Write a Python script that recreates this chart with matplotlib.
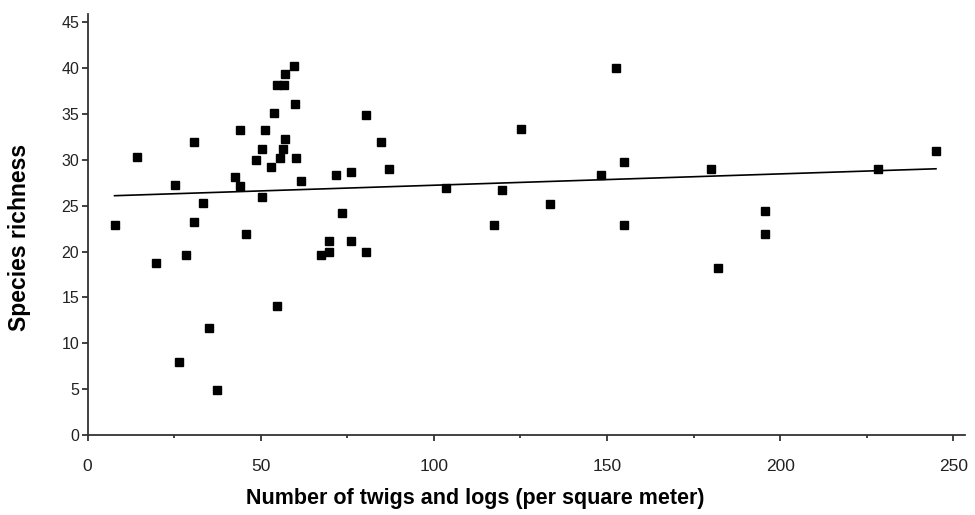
import numpy as np
import matplotlib
matplotlib.use('Agg')
import matplotlib.pyplot as plt
from matplotlib.ticker import MultipleLocator

plt.rcParams['font.family'] = ['Liberation Sans', 'DejaVu Sans']

# Data
twigs = [7.8, 14.4, 19.9, 25.2, 26.4, 28.5, 30.8, 30.8, 33.4, 35.2,
         37.4, 42.6, 43.9, 44.0, 45.7, 48.7, 50.5, 50.3, 51.3, 53.1,
         53.9, 54.7, 54.7, 55.7, 56.4, 56.7, 57.1, 57.1, 59.7, 60.0,
         60.1, 61.7, 67.4, 69.6, 69.6, 71.7, 73.5, 76.0, 76.1, 80.4,
         80.4, 84.8, 87.0, 103.5, 117.4, 119.7, 125.3, 133.5, 148.4, 152.7,
         154.8, 154.8, 180.1, 182.2, 195.7, 195.7, 228.4, 245.0]
richness = [22.9, 30.3, 18.8, 27.3, 8.0, 19.6, 32.0, 23.2, 25.3, 11.7,
            4.9, 28.1, 33.3, 27.2, 21.9, 30.0, 31.2, 26.0, 33.3, 29.2,
            35.1, 38.2, 14.1, 30.2, 31.2, 38.2, 39.4, 32.3, 40.2, 36.1,
            30.2, 27.7, 19.6, 21.1, 19.9, 28.4, 24.2, 21.1, 28.7, 34.9,
            19.9, 32.0, 29.0, 26.9, 22.9, 26.7, 33.4, 25.2, 28.4, 40.0,
            29.8, 22.9, 29.0, 18.2, 24.4, 21.9, 29.0, 31.0]

x = np.array(twigs)
y = np.array(richness)

# linear trend line
slope, intercept = np.polyfit(x, y, 1)
xl = np.array([x.min(), x.max()])
yl = slope * xl + intercept

fig = plt.figure(figsize=(9.75, 5.15), dpi=100)
ax = fig.add_axes([0.0898, 0.1553, 0.900, 0.8175])

ax.plot(x, y, 's', color='black', markersize=5.8, zorder=3)
ax.plot(xl, yl, '-', color='black', lw=1.2, zorder=2)

ax.set_xlim(0, 253.4)
ax.set_ylim(0, 45.9)
ax.set_xticks(np.arange(0, 251, 50))
ax.xaxis.set_minor_locator(MultipleLocator(25))
ax.set_yticks(np.arange(0, 46, 5))

for s in ['top', 'right']:
    ax.spines[s].set_visible(False)
for s in ['left', 'bottom']:
    ax.spines[s].set_color('#333333')
    ax.spines[s].set_linewidth(1.3)

ax.tick_params(axis='both', which='major', direction='out', length=4, width=1.3,
               color='#333333', labelcolor='#222222')
ax.tick_params(axis='y', which='major', labelsize=11.5, pad=2)
ax.tick_params(axis='x', which='major', labelsize=12.5, pad=13)
ax.tick_params(axis='x', which='minor', direction='out', length=2, width=1.3, color='#333333')

ax.set_xlabel('Number of twigs and logs (per square meter)', fontsize=15.5,
              fontweight='bold')
ax.set_ylabel('Species richness', fontsize=16.5, fontweight='bold')
ax.xaxis.set_label_coords(0.4415, -0.125)
ax.yaxis.set_label_coords(-0.064, 0.470)

fig.savefig('out.png', dpi=100)
